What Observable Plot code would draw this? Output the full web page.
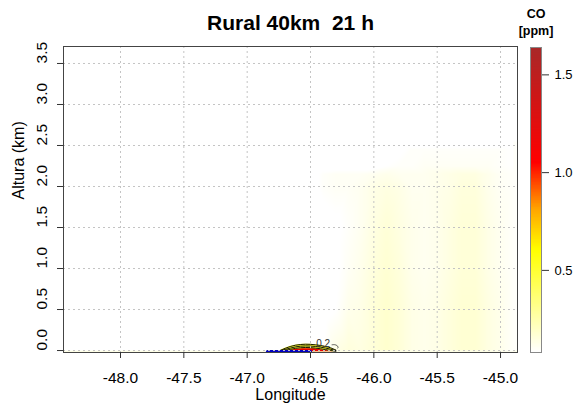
<!DOCTYPE html>
<html><head><meta charset="utf-8">
<script src="https://cdn.jsdelivr.net/npm/d3@7"></script>
<script src="https://cdn.jsdelivr.net/npm/@observablehq/plot@0.6"></script>
<style>
body{margin:0;background:#fff;}
#wrap{position:relative;width:588px;height:405px;font-family:"Liberation Sans",Arial,sans-serif;}
#wrap svg{position:absolute;left:0;top:0;}
</style></head><body><div id="wrap"></div>
<script>
const titleText = "Rural 40km  21 h";
const xLabel = "Longitude";
const yLabel = "Altura (km)";
const cbTitle = ["CO", "[ppm]"];
const xTicks = [-48.0, -47.5, -47.0, -46.5, -46.0, -45.5, -45.0];
const yTicks = [0.0, 0.5, 1.0, 1.5, 2.0, 2.5, 3.0, 3.5];
const cbTicks = [0.5, 1.0, 1.5];
const colorStops = [0.08, 0.60, 0.81, 1.05, 1.64];
const colorRange = ["#FFFFFF", "#FFFF00", "#FFA500", "#FF0000", "#A82828"];

// CO concentration samples (ppm): columns by longitude, rows by altitude (km)
const gridLon = [-46.5, -46.4, -46.3, -46.2, -46.1, -46.0, -45.9, -45.8, -45.7, -45.6, -45.5, -45.4, -45.3, -45.2, -45.1, -45.0, -44.9];
const gridAlt = [0.0, 0.5, 1.0, 1.5, 2.0, 2.15, 2.25, 2.45, 2.55];
const gridValues = [
  [0.06, 0.08, 0.13, 0.15, 0.14, 0.16, 0.18, 0.16, 0.13, 0.12, 0.13, 0.15, 0.17, 0.17, 0.14, 0.12, 0.09],
  [0.06, 0.06, 0.08, 0.12, 0.13, 0.16, 0.18, 0.16, 0.13, 0.12, 0.13, 0.15, 0.17, 0.17, 0.14, 0.12, 0.09],
  [0.06, 0.06, 0.07, 0.10, 0.12, 0.15, 0.17, 0.15, 0.12, 0.11, 0.12, 0.14, 0.16, 0.16, 0.13, 0.11, 0.09],
  [0.06, 0.06, 0.07, 0.09, 0.11, 0.14, 0.16, 0.14, 0.12, 0.11, 0.12, 0.14, 0.16, 0.16, 0.13, 0.11, 0.09],
  [0.06, 0.09, 0.10, 0.10, 0.11, 0.13, 0.14, 0.13, 0.11, 0.11, 0.12, 0.13, 0.15, 0.15, 0.12, 0.10, 0.09],
  [0.06, 0.09, 0.10, 0.10, 0.10, 0.11, 0.12, 0.11, 0.11, 0.11, 0.12, 0.13, 0.14, 0.14, 0.12, 0.10, 0.09],
  [0.06, 0.06, 0.06, 0.06, 0.06, 0.06, 0.08, 0.09, 0.09, 0.10, 0.10, 0.10, 0.10, 0.10, 0.10, 0.09, 0.08],
  [0.06, 0.06, 0.06, 0.06, 0.06, 0.06, 0.06, 0.07, 0.09, 0.09, 0.09, 0.09, 0.09, 0.09, 0.09, 0.09, 0.08],
  [0.06, 0.06, 0.06, 0.06, 0.06, 0.06, 0.06, 0.06, 0.06, 0.06, 0.06, 0.06, 0.06, 0.06, 0.06, 0.06, 0.06]
];

// Near-ground plume
const plumeLon   = [-46.74, -46.70, -46.66, -46.62, -46.58, -46.54, -46.50, -46.46, -46.42, -46.38, -46.34, -46.30];
const plumeOuter = [0.000, 0.028, 0.050, 0.066, 0.074, 0.078, 0.076, 0.070, 0.062, 0.050, 0.034, 0.006];
const plumeMid   = [0.000, 0.012, 0.030, 0.045, 0.054, 0.057, 0.055, 0.050, 0.042, 0.030, 0.016, 0.000];
const plumeInner = [-0.010, 0.000, 0.014, 0.027, 0.035, 0.038, 0.036, 0.030, 0.022, 0.011, 0.000, -0.010];
const plumeCore  = [-0.015, -0.015, 0.000, 0.012, 0.020, 0.022, 0.022, 0.018, 0.010, 0.000, -0.015, -0.015];
const curlLon = [-46.33, -46.31, -46.29, -46.28, -46.285];
const curlAlt = [0.070, 0.074, 0.062, 0.042, 0.030];
const contourLabels = [{lon: -46.40, alt: 0.085, text: "0.2"}];
const sourceLon = [-46.84, -46.50];
const sourceAlt = [-0.012, -0.012];

const samples = [];
gridAlt.forEach((a, i) => gridLon.forEach((l, j) => samples.push({lon: l, alt: a, v: gridValues[i][j]})));
const plume = plumeLon.map((l, i) => ({lon: l, outer: plumeOuter[i], mid: plumeMid[i], inner: plumeInner[i], core: plumeCore[i]}));
const curl = curlLon.map((l, i) => ({lon: l, alt: curlAlt[i]}));
const source = sourceLon.map((l, i) => ({lon: l, alt: sourceAlt[i]}));

const colorOpts = {type: "linear", domain: colorStops, range: colorRange, clamp: true};
const grid = {stroke: "#c4c4c4", strokeOpacity: 1, strokeDasharray: "2,3"};
const fmt = d => d.toFixed(1);

const main = Plot.plot({
  width: 588, height: 405,
  marginLeft: 63, marginRight: 71, marginTop: 46, marginBottom: 53,
  style: {fontFamily: "'Liberation Sans', Arial, sans-serif", background: "white"},
  x: {domain: [-48.45, -44.866]},
  y: {domain: [-0.024, 3.707]},
  color: colorOpts,
  marks: [
    Plot.raster(samples, {x: "lon", y: "alt", fill: "v", interpolate: "barycentric", pixelSize: 1}),
    Plot.areaY(plume, {x: "lon", y1: -0.015, y2: "outer", fill: "#FFFF30", curve: "basis"}),
    Plot.areaY(plume, {x: "lon", y1: -0.015, y2: "core", fill: "#E80000", curve: "basis"}),
    Plot.line(plume, {x: "lon", y: "outer", stroke: "black", strokeWidth: 0.9, curve: "basis"}),
    Plot.line(plume, {x: "lon", y: "mid", stroke: "black", strokeWidth: 0.9, curve: "basis"}),
    Plot.line(plume, {x: "lon", y: "inner", stroke: "black", strokeWidth: 0.9, curve: "basis"}),
    Plot.line(curl, {x: "lon", y: "alt", stroke: "#333", strokeWidth: 0.8, curve: "basis"}),
    Plot.text(contourLabels, {x: "lon", y: "alt", text: "text", fontSize: 10, fill: "#333"}),
    Plot.line(source, {x: "lon", y: "alt", stroke: "#0000C0", strokeWidth: 3}),
    Plot.gridX(xTicks, grid),
    Plot.gridY(yTicks, grid),
    Plot.frame({stroke: "#444"}),
    Plot.axisX({ticks: xTicks, tickSize: 6, tickPadding: 13, fontSize: 15.5, tickFormat: fmt, label: null, stroke: "#333"}),
    Plot.axisY({ticks: yTicks, tickSize: 6, tickFormat: () => "", label: null, stroke: "#333"}),
    Plot.text(yTicks, {y: d => d, frameAnchor: "left", dx: -21, rotate: -90, text: fmt, fontSize: 15.5, lineAnchor: "middle"}),
    Plot.text([titleText], {frameAnchor: "top", dy: -23, fontSize: 21, fontWeight: "bold", lineAnchor: "middle"}),
    Plot.text([xLabel], {frameAnchor: "bottom", dy: 42, fontSize: 16, lineAnchor: "middle"}),
    Plot.text([yLabel], {frameAnchor: "left", dx: -45, rotate: -90, fontSize: 16, lineAnchor: "middle"})
  ]
});

const step = 0.004;
const ramp = d3.range(colorStops[0], colorStops[colorStops.length - 1], step);
const bar = Plot.plot({
  width: 588, height: 405,
  marginLeft: 530, marginRight: 47, marginTop: 47, marginBottom: 53,
  style: {fontFamily: "'Liberation Sans', Arial, sans-serif", background: "transparent"},
  x: {domain: [0, 1]},
  y: {domain: [colorStops[0], colorStops[colorStops.length - 1]]},
  color: colorOpts,
  marks: [
    Plot.rect(ramp, {x1: 0, x2: 1, y1: d => d, y2: d => Math.min(d + step * 1.5, colorStops[colorStops.length - 1]), fill: d => d + step / 2, shapeRendering: "crispEdges"}),
    Plot.frame({stroke: "#888"}),
    Plot.axisX({ticks: [], label: null, tickSize: 0}),
    Plot.axisY({ticks: cbTicks, anchor: "right", tickSize: 7, tickPadding: 6, fontSize: 13, tickFormat: fmt, label: null, stroke: "#333"}),
    Plot.text([cbTitle[0]], {frameAnchor: "top", dy: -34, fontSize: 12.5, fontWeight: "bold", lineAnchor: "middle"}),
    Plot.text([cbTitle[1]], {frameAnchor: "top", dy: -17, fontSize: 12.5, fontWeight: "bold", lineAnchor: "middle"})
  ]
});

const wrap = document.getElementById("wrap");
wrap.appendChild(main);
wrap.appendChild(bar);
</script></body></html>
